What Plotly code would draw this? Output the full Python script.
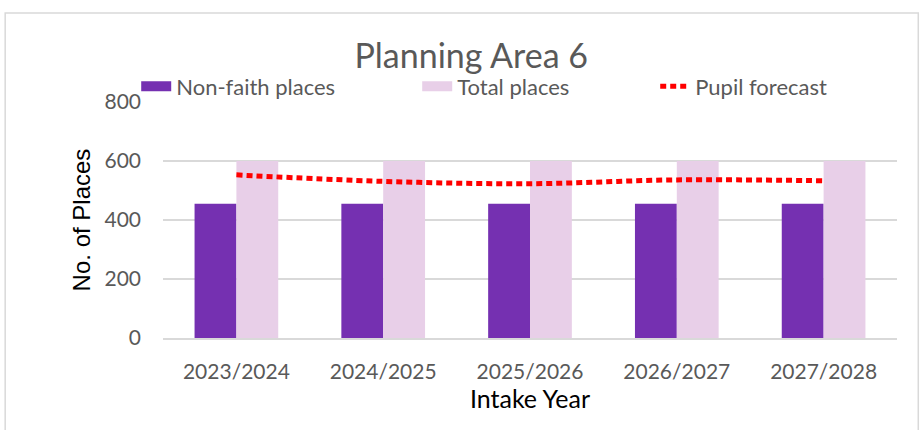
import plotly.graph_objects as go

years = ["2023/2024", "2024/2025", "2025/2026", "2026/2027", "2027/2028"]
non_faith = [455, 455, 455, 455, 455]
total_places = [600, 600, 600, 600, 600]
pupil_forecast = [553, 531, 523, 536, 533]
y_ticks = [0, 200, 400, 600, 800]

FONT = "Lato, 'Open Sans', sans-serif"
GREY = "#595959"
PURPLE = "#7530b1"
PINK = "#e8cfe8"

fig = go.Figure()
fig.add_trace(go.Bar(x=years, y=non_faith, name="Non-faith places", showlegend=False,
                     marker=dict(color=PURPLE, line=dict(width=0))))
fig.add_trace(go.Bar(x=years, y=total_places, name="Total places", showlegend=False,
                     marker=dict(color=PINK, line=dict(width=0))))
fig.add_trace(go.Scatter(x=years, y=pupil_forecast, name="Pupil forecast",
                         mode="lines", showlegend=False,
                         line=dict(color="#ff0000", width=5, dash="6px,4px", shape="spline")))

# legend entries (wide swatches like the reference)
fig.add_trace(go.Scatter(x=[None], y=[None], mode="lines", name="Non-faith places",
                         line=dict(color=PURPLE, width=14), legendwidth=236))
fig.add_trace(go.Scatter(x=[None], y=[None], mode="lines", name="Total places",
                         line=dict(color=PINK, width=14), legendwidth=193))
fig.add_trace(go.Scatter(x=[None], y=[None], mode="lines", name="Pupil forecast",
                         line=dict(color="#ff0000", width=5, dash="6px,4px"), legendwidth=180))

fig.update_layout(
    width=924, height=430,
    margin=dict(l=163, r=27, t=102, b=92, autoexpand=False),
    paper_bgcolor="white", plot_bgcolor="white",
    barmode="group", bargap=0.43, bargroupgap=0,
    font=dict(family=FONT, color=GREY, size=21),
    title=dict(text="Planning Area 6", x=0.51, xanchor="center",
               y=1 - 56 / 430, yanchor="middle", yref="container",
               font=dict(size=34, color=GREY, family=FONT)),
    legend=dict(orientation="h", x=-0.0365, xanchor="left",
                y=1.066, yanchor="middle",
                font=dict(size=22, color=GREY, family=FONT),
                bgcolor="rgba(0,0,0,0)", itemwidth=30),
    xaxis=dict(title=dict(text="Intake Year", font=dict(size=25, color="black", family=FONT),
                          standoff=4),
               tickfont=dict(size=21, color=GREY, family=FONT),
               showgrid=False, showline=True, linecolor="#d9d9d9", linewidth=2,
               ticks="", ticklabelstandoff=14),
    yaxis=dict(title=dict(text="No. of Places",
                          font=dict(size=24, color="black", family="'Liberation Sans', Arial, sans-serif"),
                          standoff=7),
               range=[0, 800], tickvals=y_ticks,
               tickfont=dict(size=21, color=GREY, family=FONT),
               showgrid=True, gridcolor="#d9d9d9", gridwidth=1.5,
               zeroline=False, ticks="", ticklabelstandoff=21),
    shapes=[dict(type="rect", xref="paper", yref="paper",
                 x0=-0.215, x1=1.029, y0=-0.6, y1=1.377,
                 line=dict(color="#d9d9d9", width=1.5), layer="below")],
)

fig.write_html("out.html", config={"displayModeBar": False},
               post_script="document.body.style.margin='0';")
